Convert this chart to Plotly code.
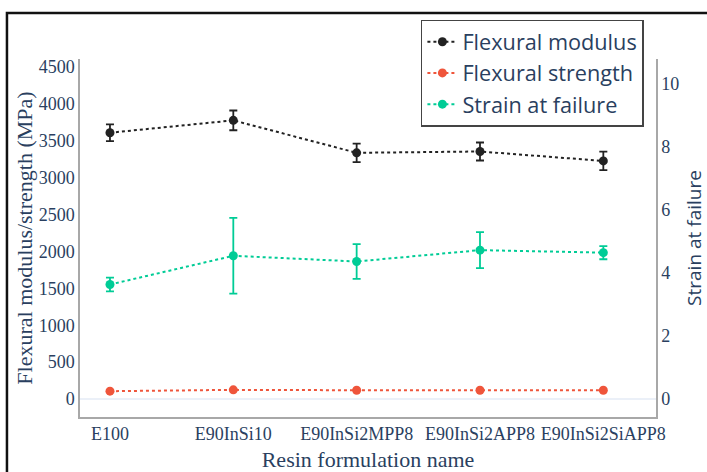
import plotly.graph_objects as go

# Resin formulations on the x axis
formulations = ["E100", "E90InSi10", "E90InSi2MPP8", "E90InSi2APP8", "E90InSi2SiAPP8"]

# Flexural modulus (MPa) and its standard deviation
modulus = [3610, 3778, 3338, 3356, 3228]
modulus_sd = [113, 134, 125, 122, 125]

# Flexural strength (MPa)
strength = [106, 124, 119, 119, 119]

# Strain at failure (%) and its standard deviation
strain = [3.63, 4.54, 4.36, 4.72, 4.64]
strain_sd = [0.22, 1.20, 0.55, 0.57, 0.21]

TEXT = "#2a3f5f"
SERIF = "Liberation Serif, Times New Roman, serif"
SANS = "Open Sans, sans-serif"

fig = go.Figure()

fig.add_trace(go.Scatter(
    x=formulations, y=modulus, name="Flexural modulus",
    mode="lines+markers",
    line=dict(color="#222222", dash="dot", width=2),
    marker=dict(color="#222222", size=9),
    error_y=dict(type="data", array=modulus_sd, color="#222222", thickness=1.8, width=4),
))

fig.add_trace(go.Scatter(
    x=formulations, y=strength, name="Flexural strength",
    mode="lines+markers",
    line=dict(color="#EF553B", dash="dot", width=2),
    marker=dict(color="#EF553B", size=9),
))

fig.add_trace(go.Scatter(
    x=formulations, y=strain, name="Strain at failure",
    mode="lines+markers", yaxis="y2",
    line=dict(color="#00CC96", dash="dot", width=2),
    marker=dict(color="#00CC96", size=9),
    error_y=dict(type="data", array=strain_sd, color="#00CC96", thickness=1.8, width=4),
))

# Outer frame around the figure
fig.add_shape(
    type="rect", xref="paper", yref="paper",
    x0=-0.1268, x1=1.3, y0=-0.3, y1=1.1285,
    line=dict(color="#111111", width=2.5), layer="above",
)

fig.update_layout(
    width=707, height=472,
    margin=dict(l=80, r=51, t=59, b=55, autoexpand=False),
    paper_bgcolor="white", plot_bgcolor="white",
    font=dict(family=SERIF, color=TEXT, size=18),
    showlegend=True,
    legend=dict(
        x=0.979, y=1.11, xanchor="right", yanchor="top",
        bordercolor="#444444", borderwidth=1.5, bgcolor="white",
        font=dict(family=SANS, size=21.7, color=TEXT),
        tracegroupgap=0, itemwidth=30,
    ),
    xaxis=dict(
        range=[-0.243, 4.427], automargin=False,
        showgrid=False, zeroline=False,
        showline=True, linecolor="#a8a8a8", linewidth=1.5,
        tickfont=dict(family=SERIF, size=18, color=TEXT),
        title=dict(text="Resin formulation name",
                   font=dict(family=SERIF, size=22, color=TEXT), standoff=10),
    ),
    yaxis=dict(
        range=[-244, 4610], automargin=False,
        tickvals=[0, 500, 1000, 1500, 2000, 2500, 3000, 3500, 4000, 4500],
        showgrid=False,
        zeroline=True, zerolinecolor="#EBF0F8", zerolinewidth=2,
        showline=True, linecolor="#a8a8a8", linewidth=1.5,
        tickfont=dict(family=SERIF, size=18, color=TEXT),
        title=dict(text="Flexural modulus/strength (MPa)",
                   font=dict(family=SERIF, size=22, color=TEXT), standoff=0),
    ),
    yaxis2=dict(
        overlaying="y", side="right", automargin=False,
        range=[-0.571, 10.78],
        tickvals=[0, 2, 4, 6, 8, 10],
        showgrid=False, zeroline=False,
        showline=True, linecolor="#a8a8a8", linewidth=1.5,
        tickfont=dict(family=SERIF, size=18, color=TEXT),
        title=dict(text="Strain at failure",
                   font=dict(family=SANS, size=19, color=TEXT), standoff=10),
    ),
)

fig.write_html("out.html")
